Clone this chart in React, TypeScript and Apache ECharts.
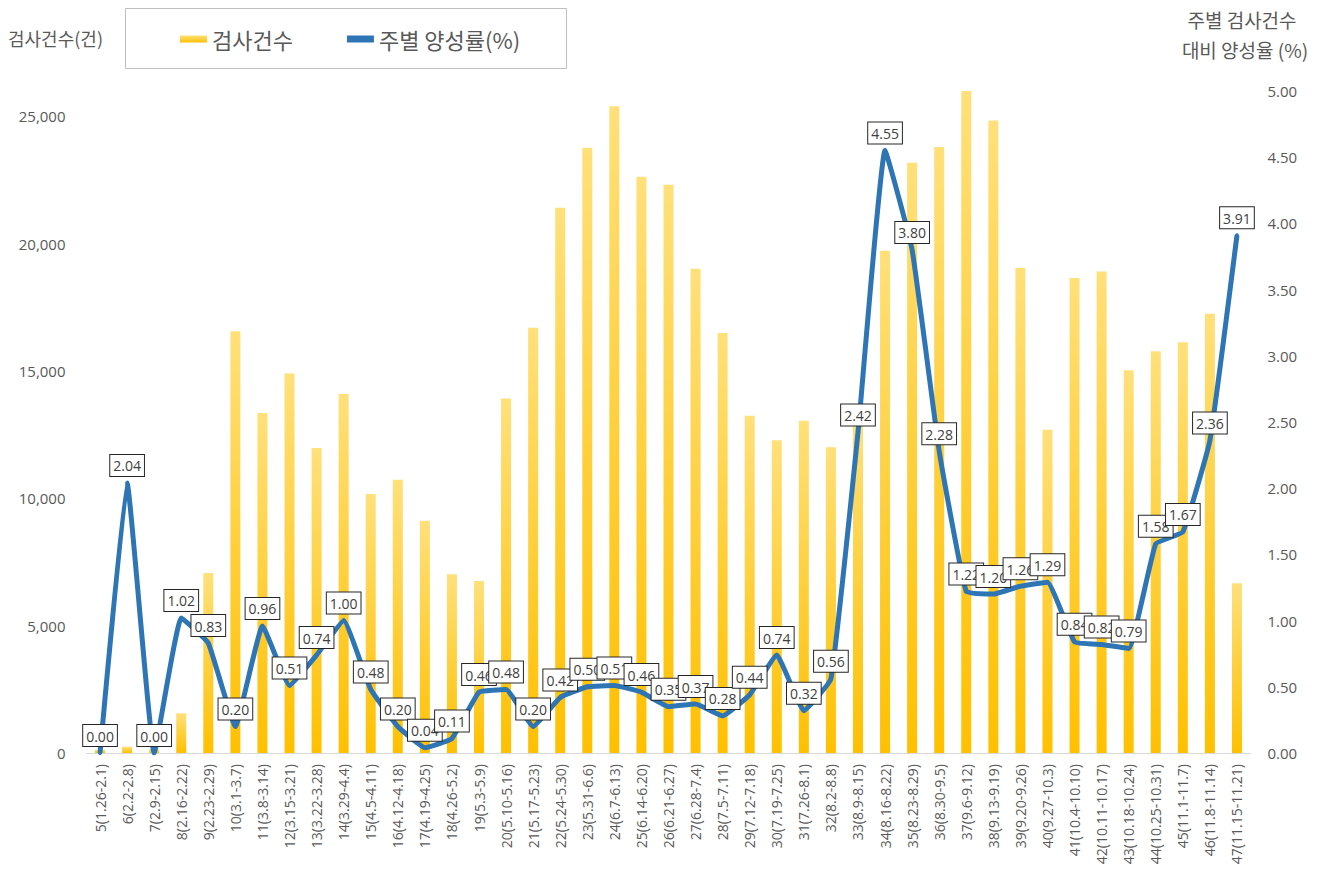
import React, { useEffect, useRef } from "react";
import * as echarts from "echarts";

const weeks = [
  "5(1.26-2.1)", "6(2.2-2.8)", "7(2.9-2.15)", "8(2.16-2.22)", "9(2.23-2.29)",
  "10(3.1-3.7)", "11(3.8-3.14)", "12(3.15-3.21)", "13(3.22-3.28)", "14(3.29-4.4)",
  "15(4.5-4.11)", "16(4.12-4.18)", "17(4.19-4.25)", "18(4.26-5.2)", "19(5.3-5.9)",
  "20(5.10-5.16)", "21(5.17-5.23)", "22(5.24-5.30)", "23(5.31-6.6)", "24(6.7-6.13)",
  "25(6.14-6.20)", "26(6.21-6.27)", "27(6.28-7.4)", "28(7.5-7.11)", "29(7.12-7.18)",
  "30(7.19-7.25)", "31(7.26-8.1)", "32(8.2-8.8)", "33(8.9-8.15)", "34(8.16-8.22)",
  "35(8.23-8.29)", "36(8.30-9.5)", "37(9.6-9.12)", "38(9.13-9.19)", "39(9.20-9.26)",
  "40(9.27-10.3)", "41(10.4-10.10)", "42(10.11-10.17)", "43(10.18-10.24)", "44(10.25-10.31)",
  "45(11.1-11.7)", "46(11.8-11.14)", "47(11.15-11.21)",
];

const testCounts = [
  130, 250, 150, 1560, 7070,
  16560, 13350, 14900, 11980, 14100,
  10170, 10730, 9120, 7020, 6760,
  13920, 16700, 21410, 23770, 25400,
  22630, 22320, 19020, 16500, 13250,
  12280, 13050, 12010, 13300, 19730,
  23180, 23800, 26000, 24840, 19050,
  12700, 18660, 18910, 15030, 15780,
  16130, 17250, 6670,
];

const positiveRates = [
  0.0, 2.04, 0.0, 1.02, 0.83,
  0.2, 0.96, 0.51, 0.74, 1.0,
  0.48, 0.2, 0.04, 0.11, 0.46,
  0.48, 0.2, 0.42, 0.5, 0.51,
  0.46, 0.35, 0.37, 0.28, 0.44,
  0.74, 0.32, 0.56, 2.42, 4.55,
  3.8, 2.28, 1.22, 1.2, 1.26,
  1.29, 0.84, 0.82, 0.79, 1.58,
  1.67, 2.36, 3.91,
];

const barName = "검사건수";
const lineName = "주별 양성률(%)";
const leftTitle = "검사건수(건)";
const rightTitle1 = "주별 검사건수";
const rightTitle2 = "대비 양성율 (%)";

const FONT = "'Open Sans', 'Noto Sans CJK KR', sans-serif";
const KFONT = "'Noto Sans CJK KR', 'Open Sans', sans-serif";
const GREY = "#595959";
const BLUE = "#2E75B6";

export default function App() {
  const ref = useRef<HTMLDivElement>(null);

  useEffect(() => {
    if (!ref.current) return;
    const chart = echarts.init(ref.current, undefined, { renderer: "svg" });
    const option = {
      animation: false,
      backgroundColor: "#ffffff",
      grid: { left: 86.5, right: 73.5, top: 91, bottom: 118, containLabel: false },
      legend: {
        left: 180,
        top: 26,
        padding: 0,
        itemWidth: 27,
        itemHeight: 7,
        itemGap: 54,
        data: [
          { name: barName, icon: "rect" },
          { name: lineName, icon: "rect" },
        ],
        textStyle: { fontSize: 22, color: GREY, fontFamily: KFONT, lineHeight: 26 },
      },
      graphic: [
        {
          type: "rect",
          shape: { x: 125.5, y: 8.5, width: 441, height: 60 },
          style: { fill: "none", stroke: "#bfbfbf", lineWidth: 1 },
          silent: true,
        },
        {
          type: "text",
          x: 8,
          y: 38,
          style: {
            text: leftTitle,
            fill: GREY,
            font: `18px ${KFONT}`,
            textAlign: "left",
            textVerticalAlign: "middle",
          },
        },
        {
          type: "text",
          x: 1242,
          y: 19,
          style: {
            text: rightTitle1,
            fill: GREY,
            font: `19px ${KFONT}`,
            textAlign: "center",
            textVerticalAlign: "middle",
          },
        },
        {
          type: "text",
          x: 1245,
          y: 49,
          style: {
            text: rightTitle2,
            fill: GREY,
            font: `19px ${KFONT}`,
            textAlign: "center",
            textVerticalAlign: "middle",
          },
        },
      ],
      xAxis: {
        type: "category",
        data: weeks,
        axisLine: { show: true, lineStyle: { color: "#d9d9d9", width: 1 } },
        axisTick: { show: false },
        axisLabel: {
          interval: 0,
          rotate: 90,
          margin: 11,
          fontSize: 14,
          color: GREY,
          fontFamily: FONT,
        },
        splitLine: { show: false },
      },
      yAxis: [
        {
          type: "value",
          min: 0,
          max: 26000,
          interval: 5000,
          axisLine: { show: false },
          axisTick: { show: false },
          splitLine: { show: false },
          axisLabel: {
            showMaxLabel: false,
            margin: 21,
            fontSize: 15,
            color: GREY,
            fontFamily: FONT,
            formatter: (v: number) => v.toLocaleString("en-US"),
          },
        },
        {
          type: "value",
          min: 0,
          max: 5,
          interval: 0.5,
          position: "right",
          axisLine: { show: false },
          axisTick: { show: false },
          splitLine: { show: false },
          axisLabel: {
            margin: 17,
            fontSize: 15,
            color: GREY,
            fontFamily: FONT,
            formatter: (v: number) => v.toFixed(2),
          },
        },
      ],
      series: [
        {
          name: barName,
          type: "bar",
          yAxisIndex: 0,
          data: testCounts,
          barWidth: 10,
          itemStyle: {
            color: new echarts.graphic.LinearGradient(0, 0, 0, 1, [
              { offset: 0, color: "#FFE07A" },
              { offset: 1, color: "#FFC000" },
            ]),
          },
          z: 1,
        },
        {
          name: lineName,
          type: "line",
          yAxisIndex: 1,
          data: positiveRates,
          smooth: 0.1,
          showSymbol: true,
          showAllSymbol: true,
          symbol: "circle",
          symbolSize: 4,
          color: BLUE,
          lineStyle: { color: BLUE, width: 5 },
          itemStyle: { color: BLUE, borderWidth: 0 },
          z: 3,
          label: {
            show: true,
            position: "top",
            distance: 5,
            formatter: (p: any) => Number(p.value).toFixed(2),
            fontSize: 14,
            fontFamily: FONT,
            color: "#404040",
            backgroundColor: "#ffffff",
            borderColor: "#262626",
            borderWidth: 1,
            padding: [4, 3, 3, 3],
          },
          labelLayout: { hideOverlap: false },
        },
      ],
    };
    chart.setOption(option as any);
    return () => {
      chart.dispose();
    };
  }, []);

  return (
    <div
      ref={ref}
      style={{ position: "absolute", left: 0, top: 0, width: 1324, height: 871 }}
    />
  );
}
